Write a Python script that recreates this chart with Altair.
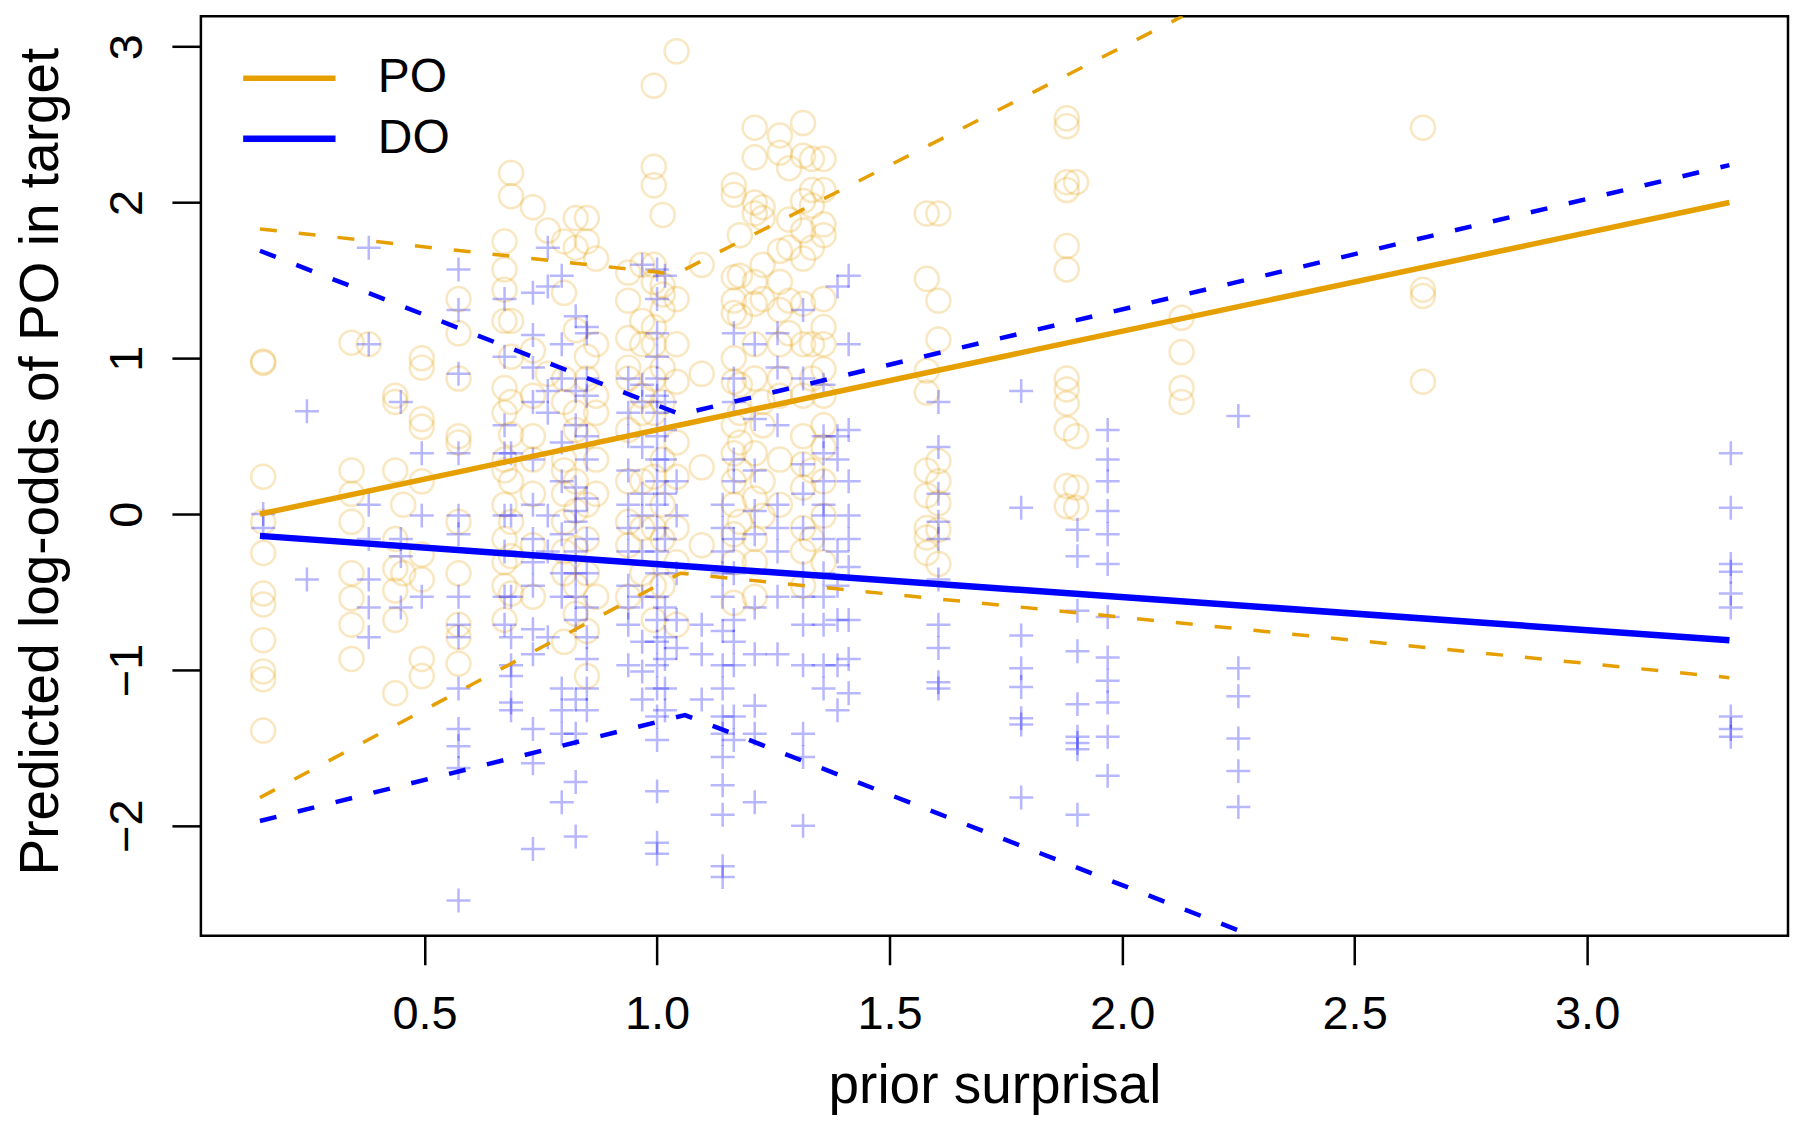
import altair as alt
import pandas as pd

ORANGE = "#E69F00"
BLUE = "#0000FF"
FONT = "Liberation Sans"

# ---- PO observations (orange circles): column x and y values ----
po_cols = [0.153, 0.343, 0.380, 0.437, 0.454, 0.494, 0.573, 0.672, 0.686, 0.733,
           0.765, 0.800, 0.825, 0.849, 0.869, 0.938, 0.968, 0.993, 1.012, 1.042,
           1.096, 1.165, 1.178, 1.210, 1.227, 1.264, 1.284, 1.314, 1.333, 1.358,
           1.580, 1.605, 1.881, 1.901, 2.128, 2.647]
po_vals = [
    [0.98, 0.97, 0.24, -0.05, -0.25, -0.51, -0.58, -0.81, -1.01, -1.06, -1.39],
    [1.10, 0.28, 0.13, -0.05, -0.38, -0.54, -0.71, -0.93],
    [1.09],
    [0.76, 0.72, 0.28, -0.16, -0.35, -0.49, -0.68, -1.15],
    [0.06, -0.38],
    [1.00, 0.94, 0.61, 0.56, 0.21, -0.26, -0.42, -0.93, -1.04],
    [1.38, 1.16, 0.87, 0.50, 0.46, -0.05, -0.38, -0.71, -0.79, -0.96],
    [1.75, 1.57, 1.44, 1.24, 0.81, 0.65, 0.35, 0.28, 0.06, -0.16, -0.31, -0.46, -0.68],
    [2.19, 2.04, 1.24, 1.01, 0.72, 0.51, 0.21, -0.05, -0.27, -0.51],
    [1.97, 1.05, 0.76, 0.50, 0.35, 0.13, -0.20, -0.53],
    [1.82, 0.90],
    [1.75, 1.42, 0.87, 0.72, 0.35, 0.28, 0.13, -0.05, -0.24, -0.38, -0.82],
    [1.90, 1.71, 1.18, 0.65, 0.54, 0.21, 0.02, -0.22, -0.46, -0.64],
    [1.90, 1.75, 1.01, 0.87, 0.50, 0.06, -0.16, -0.38, -0.75, -1.04],
    [1.64, 1.09, 0.76, 0.65, 0.35, 0.13, -0.53],
    [1.55, 1.37, 1.13, 0.94, 0.87, 0.54, 0.21, -0.05, -0.20, -0.53],
    [1.60, 1.24, 1.09, 0.76, 0.65, 0.21, -0.09, -0.38],
    [2.75, 2.23, 2.11, 1.60, 1.49, 1.20, 1.09, 0.87, 0.65, 0.24, -0.09, -0.46, -0.68],
    [1.92, 1.47, 1.41, 1.31, 0.94, 0.72, 0.35, 0.06, -0.16, -0.46],
    [2.97, 1.38, 1.09, 0.85, 0.46, 0.24, -0.09, -0.31, -0.71],
    [1.60, 0.90, 0.30, -0.20],
    [2.11, 2.05, 1.52, 1.37, 1.29, 1.00, 0.85, 0.57, 0.39, 0.21, 0.06, -0.13, -0.31, -0.57],
    [1.79, 1.53, 1.27, 0.83, 0.65, 0.46, 0.28, -0.05],
    [2.48, 2.29, 2.00, 1.93, 1.49, 1.35, 1.09, 0.87, 0.39, 0.10, -0.16, -0.31, -0.53],
    [1.97, 1.90, 1.60, 1.38, 0.72, 0.57, 0.21, -0.01],
    [2.43, 2.32, 1.69, 1.49, 1.31, 1.09, 0.87, 0.76, 0.35, 0.06],
    [2.22, 1.89, 1.71, 1.37, 1.16],
    [2.51, 2.30, 2.01, 1.82, 1.64, 1.35, 1.09, 0.76, 0.50, 0.32, 0.17, -0.09, -0.24, -0.46],
    [2.28, 2.08, 1.98, 1.71, 1.09, 0.87, 0.28, -0.16],
    [2.28, 2.08, 1.86, 1.79, 1.38, 1.20, 1.09, 0.93, 0.76, 0.57, 0.43, 0.21, -0.01, -0.31],
    [1.93, 1.51, 0.92, 0.78, 0.28, 0.12, -0.09, -0.15, -0.25],
    [1.93, 1.37, 1.12, 0.34, 0.21, 0.07, -0.10, -0.32],
    [2.54, 2.49, 2.13, 2.08, 1.72, 1.57, 0.87, 0.80, 0.71, 0.55, 0.18, 0.05],
    [2.13, 0.50, 0.17, 0.04],
    [1.26, 1.04, 0.81, 0.72],
    [2.48, 1.44, 1.40, 0.85],
]

# ---- DO observations (blue crosses) ----
do_cols = [0.153, 0.247, 0.380, 0.449, 0.494, 0.573, 0.672, 0.686, 0.733, 0.765,
           0.795, 0.825, 0.849, 0.938, 0.968, 1.000, 1.017, 1.042, 1.096, 1.141,
           1.165, 1.210, 1.259, 1.314, 1.358, 1.388, 1.412, 1.605, 1.783, 1.904,
           1.969, 2.250, 3.309]
do_vals = [
    [0.00, -0.09],
    [0.66, -0.42],
    [1.71, 1.09, 0.06, -0.16, -0.42, -0.60, -0.79],
    [0.72, -0.16, -0.27, -0.60],
    [0.39, -0.01, -0.53],
    [1.57, 1.31, 0.90, 0.39, -0.01, -0.13, -0.53, -0.71, -0.79, -1.12, -1.38, -1.49, -1.63, -2.48],
    [1.38, 1.01, 0.57, 0.39, -0.01, -0.24, -0.53, -0.71],
    [0.39, -0.01, -0.53, -0.79, -0.97, -1.04, -1.21, -1.26],
    [1.42, 1.15, 0.94, 0.72, 0.35, 0.06, -0.16, -0.31, -0.46, -0.74, -0.90, -1.38, -1.60, -2.15],
    [1.71, 1.46, 0.79, 0.65, -0.01, -0.24, -0.79],
    [1.53, 1.09, 0.87, 0.46, 0.21, -0.13, -0.38, -0.53, -1.12, -1.26, -1.41, -1.85],
    [1.27, 0.79, 0.57, 0.17, 0.02, -0.05, -0.24, -0.38, -0.53, -0.68, -1.19, -1.41, -1.72, -2.07],
    [1.20, 1.16, 0.87, 0.76, 0.50, 0.35, 0.10, -0.16, -0.38, -0.60, -0.79, -0.93, -1.12, -1.26],
    [0.87, 0.65, 0.50, 0.28, 0.06, -0.09, -0.24, -0.46, -0.60, -0.71, -0.97],
    [1.60, 0.83, 0.72, 0.43, 0.13, -0.01, -0.24, -0.53, -0.82, -1.01, -1.19],
    [1.57, 1.38, 1.16, 1.01, 0.87, 0.76, 0.65, 0.50, 0.35, 0.21, 0.06, -0.09, -0.24, -0.38,
     -0.53, -0.68, -0.82, -0.97, -1.12, -1.30, -1.45, -1.78, -2.11, -2.18],
    [1.53, 0.72, 0.54, 0.35, 0.13, -0.16, -0.60, -0.79, -0.93, -1.12, -1.26],
    [0.21, -0.01, -0.38, -0.68, -0.86],
    [-0.71, -0.90, -1.19],
    [0.06, -0.09, -0.24, -0.38, -0.53, -0.75, -0.97, -1.12, -1.30, -1.41, -1.56, -1.74, -1.93, -2.26, -2.33],
    [1.16, 0.87, 0.72, 0.35, 0.21, -0.16, -0.38, -0.68, -0.82, -0.97, -1.30, -1.45],
    [1.09, 0.61, 0.28, 0.02, -0.13, -0.60, -0.90, -1.23, -1.41, -1.85],
    [1.16, 0.94, 0.57, 0.06, -0.09, -0.24, -0.53, -0.90],
    [1.31, 0.87, 0.32, 0.13, -0.09, -0.38, -0.53, -0.71, -0.97, -1.41, -1.56, -2.00],
    [0.83, 0.50, 0.39, 0.21, 0.06, -0.01, -0.16, -0.38, -0.53, -0.71, -0.97, -1.12],
    [1.46, 0.50, 0.35, -0.24, -0.46, -0.68, -0.97, -1.26],
    [1.53, 1.09, 0.54, 0.21, -0.01, -0.16, -0.34, -0.68, -0.93, -1.15],
    [0.72, 0.43, 0.13, -0.05, -0.16, -0.42, -0.71, -0.86, -1.08, -1.12],
    [0.79, 0.04, -0.78, -0.99, -1.11, -1.31, -1.35, -1.82],
    [-0.10, -0.27, -0.62, -0.88, -1.22, -1.43, -1.47, -1.51, -1.93],
    [0.54, 0.35, 0.21, 0.02, -0.13, -0.32, -0.66, -0.92, -1.07, -1.21, -1.43, -1.68],
    [0.63, -0.99, -1.17, -1.44, -1.65, -1.88],
    [0.39, 0.04, -0.32, -0.37, -0.51, -0.60, -1.30, -1.38, -1.43],
]

# ---- fitted lines ----
fit_x = [0.146, 3.306]
po_fit = [0.00, 2.00]
do_fit = [-0.14, -0.81]

# ---- confidence bands (vertices) ----
po_upper_x = [0.146, 1.04, 2.13]
po_upper_y = [1.83, 1.54, 3.195]
po_lower_x = [0.146, 1.05, 3.306]
po_lower_y = [-1.82, -0.38, -1.05]
do_upper_x = [0.146, 1.05, 3.306]
do_upper_y = [1.69, 0.64, 2.24]
do_lower_x = [0.146, 1.06, 2.28]
do_lower_y = [-1.97, -1.29, -2.707]

x_ticks = [0.5, 1.0, 1.5, 2.0, 2.5, 3.0]
y_ticks = [-2, -1, 0, 1, 2, 3]
x_domain = [0.019, 3.432]
y_domain = [-2.707, 3.195]

po_df = pd.DataFrame([{"x": cx, "y": v} for cx, vs in zip(po_cols, po_vals) for v in vs])
do_df = pd.DataFrame([{"x": cx, "y": v} for cx, vs in zip(do_cols, do_vals) for v in vs])

fit_df = pd.DataFrame(
    [{"group": "PO", "x": a, "y": b, "w": "PO"} for a, b in zip(fit_x, po_fit)]
    + [{"group": "DO", "x": a, "y": b, "w": "DO"} for a, b in zip(fit_x, do_fit)]
)
po_band_df = pd.DataFrame(
    [{"band": "upper", "x": a, "y": b} for a, b in zip(po_upper_x, po_upper_y)]
    + [{"band": "lower", "x": a, "y": b} for a, b in zip(po_lower_x, po_lower_y)]
)
do_band_df = pd.DataFrame(
    [{"band": "upper", "x": a, "y": b} for a, b in zip(do_upper_x, do_upper_y)]
    + [{"band": "lower", "x": a, "y": b} for a, b in zip(do_lower_x, do_lower_y)]
)

xs = alt.Scale(domain=x_domain, nice=False, zero=False)
ys = alt.Scale(domain=y_domain, nice=False, zero=False)

x_axis = alt.Axis(values=x_ticks, format=".1f", title="prior surprisal", grid=False,
                  domain=False, tickSize=29, tickWidth=2.5, tickColor="black",
                  labelFont=FONT, labelFontSize=47, labelColor="black", labelPadding=27,
                  labelBaseline="top", titleFont=FONT, titleFontSize=55,
                  titleFontWeight="normal", titleColor="black", titlePadding=22)
y_axis = alt.Axis(values=y_ticks, format="d", title="Predicted log-odds of PO in target",
                  grid=False, domain=False, tickSize=29, tickWidth=2.5, tickColor="black",
                  labelFont=FONT, labelFontSize=47, labelColor="black", labelPadding=20,
                  labelAngle=270, labelAlign="center", labelBaseline="bottom",
                  titleFont=FONT, titleFontSize=55, titleFontWeight="normal",
                  titleColor="black", titlePadding=34, titleY=445)

X = alt.X("x:Q", scale=xs, axis=x_axis)
Y = alt.Y("y:Q", scale=ys, axis=y_axis)
Xn = alt.X("x:Q", scale=xs)
Yn = alt.Y("y:Q", scale=ys)

po_pts = alt.Chart(po_df).mark_point(
    shape="circle", filled=False, size=576, strokeWidth=2.5, color=ORANGE,
    opacity=0.24, clip=True
).encode(x=X, y=Y)

do_pts = alt.Chart(do_df).mark_point(
    shape="M-1,0L1,0M0,-1L0,1", filled=False, size=576, strokeWidth=2.5, color=BLUE,
    opacity=0.28, clip=True
).encode(x=Xn, y=Yn)

po_band = alt.Chart(po_band_df).mark_line(
    color=ORANGE, strokeWidth=3.5, strokeDash=[17, 22], clip=True
).encode(x=Xn, y=Yn, detail="band:N")

do_band = alt.Chart(do_band_df).mark_line(
    color=BLUE, strokeWidth=4.5, strokeDash=[17, 22], clip=True
).encode(x=Xn, y=Yn, detail="band:N")

fits = alt.Chart(fit_df).mark_line(clip=True).encode(
    x=Xn, y=Yn,
    color=alt.Color("group:N",
                    scale=alt.Scale(domain=["PO", "DO"], range=[ORANGE, BLUE]),
                    legend=alt.Legend(orient="none", legendX=52, legendY=26, title=None,
                                      symbolType="M-1.4,0L1.4,0", symbolSize=4356,
                                      symbolStrokeWidth=4, symbolFillColor="transparent",
                                      labelFont=FONT,
                                      labelFontSize=48, labelColor="black",
                                      labelOffset=52, rowPadding=0, padding=0)),
    strokeWidth=alt.StrokeWidth("w:N", scale=alt.Scale(domain=["PO", "DO"], range=[5.5, 6.5]),
                                legend=None),
)

chart = alt.layer(po_pts, do_pts, po_band, do_band, fits).properties(
    width=1588, height=920,
    padding={"left": 193, "top": 8, "right": 4, "bottom": 185},
    autosize=alt.AutoSizeParams(type="none"),
).configure(background="white").configure_view(stroke="black", strokeWidth=2.5)

chart.save("out.html", embed_options={"renderer": "svg", "actions": False})
